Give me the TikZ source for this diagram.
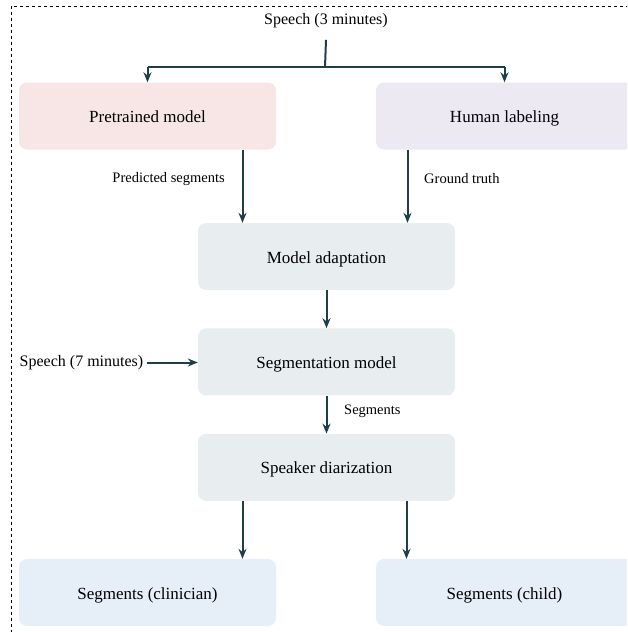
\documentclass[tikz,border=0pt]{standalone}
\usepackage{fontspec}
\setmainfont{Liberation Serif}
\usepackage{tikz}
\usetikzlibrary{positioning,calc,arrows.meta}

\definecolor{linecol}{HTML}{1E3F4A}
\definecolor{pinkfill}{HTML}{F8E6E6}
\definecolor{lilacfill}{HTML}{ECE9F3}
\definecolor{greyfill}{HTML}{E8EEF0}
\definecolor{bluefill}{HTML}{E6EEF8}

\begin{document}
\begin{tikzpicture}[x=1pt,y=-1pt]
    % `stage' is used for every rounded box, `arr' for the connectors.
    % `note' is used for the small labels beside the arrows.
    \tikzstyle{stage} = [rounded corners=8pt,minimum width=257pt,minimum height=67pt,text height=16pt,text depth=3pt,font=\fontsize{17}{20}\selectfont]
    \tikzstyle{note} = [font=\fontsize{14.5}{17}\selectfont,inner sep=1pt]
    \tikzstyle{arr} = [line width=2pt,draw=linecol,-{Stealth[length=10pt,width=8pt]}]
    \tikzstyle{plain} = [line width=2pt,draw=linecol]
    %
    \useasboundingbox (0,0) rectangle (627,632);
    \clip (0,0) rectangle (627,632);
    \draw[dashed,line width=0.6pt] (11,6) rectangle (640,640);
    %
    \node[stage,fill=pinkfill] (pre) at (147.5,116) {Pretrained model};
    \node[stage,fill=lilacfill] (hum) at (504.5,116) {Human labeling};
    \node[stage,fill=greyfill] (adapt) at (326.5,256.5) {Model adaptation};
    \node[stage,fill=greyfill,below=38pt of adapt] (segm) {Segmentation model};
    \node[stage,fill=greyfill,below=38pt of segm] (diar) {Speaker diarization};
    \node[stage,fill=bluefill] (clin) at (147.5,592.5) {Segments (clinician)};
    \node[stage,fill=bluefill] (child) at (504.5,592.5) {Segments (child)};
    %
    \node[font=\fontsize{16}{19}\selectfont] (sp3) at (326,21) {Speech (3 minutes)};
    \node[font=\fontsize{16}{19}\selectfont] (sp7) at (81.5,362.5) {Speech (7 minutes)};
    \coordinate (split) at (325,67);
    %
    % Draw the top split.
    \draw[plain] ([yshift=-8pt]sp3.south) -- (split);
    \draw[plain] (pre.north |- split) -- (hum.north |- split);
    \draw[arr] (pre.north |- split) -- (pre.north);
    \draw[arr] (hum.north |- split) -- (hum.north);
    % Draw the arrows into the adaptation.
    \draw[arr] ([xshift=-84pt]adapt.north |- pre.south) -- ([xshift=-84pt]adapt.north);
    \draw[arr] ([xshift=81pt]adapt.north |- hum.south) -- ([xshift=81pt]adapt.north);
    \node[note,anchor=east] (predlab) at (226,179) {Predicted segments};
    \node[note,anchor=west] (gtlab) at (423,179) {Ground truth};
    % Draw the main chain.
    \draw[arr] (adapt) -- (segm);
    \draw[arr] (sp7.east) -- (sp7.east -| segm.west);
    \draw[arr] (segm) -- (diar);
    \node[note,anchor=west] (seglab) at (343,411) {Segments};
    % Draw the final split.
    \draw[arr] ([xshift=-84pt]diar.south) -- ([xshift=-84pt]diar.south |- clin.north);
    \draw[arr] ([xshift=80pt]diar.south) -- ([xshift=80pt]diar.south |- child.north);
\end{tikzpicture}
\end{document}
